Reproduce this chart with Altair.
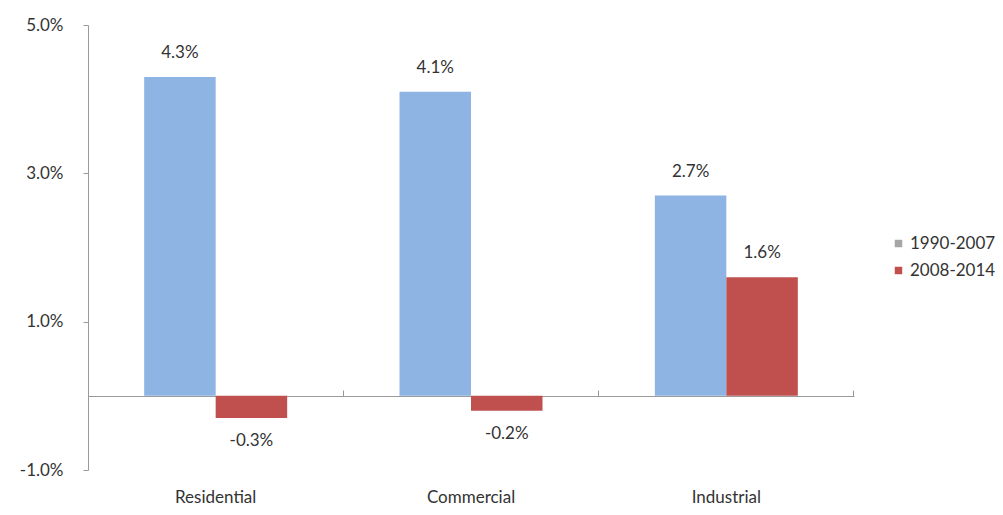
import altair as alt
import pandas as pd

categories = ["Residential", "Commercial", "Industrial"]
periods = ["1990-2007", "2008-2014"]
growth_1990_2007 = [0.043, 0.041, 0.027]
growth_2008_2014 = [-0.003, -0.002, 0.016]
y_ticks = [-0.01, 0.01, 0.03, 0.05]

rows = []
for c, a, b in zip(categories, growth_1990_2007, growth_2008_2014):
    rows.append({"category": c, "period": periods[0], "value": a})
    rows.append({"category": c, "period": periods[1], "value": b})
df = pd.DataFrame(rows)

FONT = "Lato"
TXT = "#333333"
AXIS_GREY = "#9a9a9a"
BLUE = "#8DB4E3"
RED = "#C0504D"
LEGEND_GREY = "#A6A6A6"

PAD_INNER = 0.44
x_scale = alt.Scale(paddingInner=PAD_INNER, paddingOuter=PAD_INNER / 2)
y_scale = alt.Scale(domain=[-0.01, 0.05], nice=False, zero=False)
# category separator ticks sit midway through the gap between groups
sep_band_pos = 1 + (PAD_INNER / 2) / (1 - PAD_INNER)

base = alt.Chart(df).transform_calculate(
    label="replace(format(datum.value, '.1%'), '\u2212', '-')"
)

x_plain = alt.X("category:N", sort=categories, scale=x_scale, axis=None)
y_plain = alt.Y("value:Q", scale=y_scale)
xo = alt.XOffset("period:N", sort=periods, scale=alt.Scale(paddingInner=0, paddingOuter=0))

bars = base.mark_bar().encode(
    x=alt.X("category:N", sort=categories, scale=x_scale, title=None,
            axis=alt.Axis(orient="bottom", domain=False, ticks=False, labelAngle=0,
                          labelPadding=19, labelFont=FONT, labelFontSize=17,
                          labelColor=TXT)),
    xOffset=xo,
    y=alt.Y("value:Q", scale=y_scale, title=None,
            axis=alt.Axis(values=y_ticks, format=".1%", grid=False, domainColor=AXIS_GREY,
                          tickColor=AXIS_GREY, tickSize=5, labelPadding=20,
                          labelExpr="replace(datum.label, '\u2212', '-')",
                          labelFont=FONT, labelFontSize=17, labelColor=TXT)),
    color=alt.Color("period:N", sort=periods,
                    scale=alt.Scale(range=[BLUE, RED]),
                    legend=None),
)

legend_layer = base.mark_square(size=0).encode(
    x=x_plain,
    xOffset=xo,
    y=y_plain,
    fill=alt.Fill("period:N", sort=periods,
                  scale=alt.Scale(domain=periods, range=[LEGEND_GREY, RED]),
                  legend=alt.Legend(title=None, orient="none", legendX=802, legendY=210,
                                    symbolType="square", symbolSize=56, padding=0,
                                    rowPadding=9, labelFont=FONT, labelFontSize=17,
                                    labelColor=TXT, labelOffset=3,
                                    symbolOpacity=1, symbolStrokeWidth=0)),
)

text_pos = base.transform_filter("datum.value >= 0").mark_text(
    baseline="middle", dy=-24, font=FONT, fontSize=17, color=TXT
).encode(
    x=x_plain,
    xOffset=xo,
    y=y_plain,
    text=alt.Text("label:N"),
)

text_neg = base.transform_filter("datum.value < 0").mark_text(
    baseline="middle", dy=23, font=FONT, fontSize=17, color=TXT
).encode(
    x=x_plain,
    xOffset=xo,
    y=y_plain,
    text=alt.Text("label:N"),
)

zero_axis = base.mark_bar(opacity=0).encode(
    x=alt.X("category:N", sort=categories, scale=x_scale, title=None,
            axis=alt.Axis(orient="top", offset=-371, labels=False, domain=True,
                          domainColor=AXIS_GREY, ticks=True, bandPosition=sep_band_pos,
                          tickColor=AXIS_GREY, tickSize=6, tickWidth=1)),
    y=alt.datum(0),
)

chart = alt.layer(bars, zero_axis, legend_layer, text_pos, text_neg).resolve_axis(
    x="independent"
).properties(
    width=766, height=445,
    autosize=alt.AutoSizeParams(type="none"),
    padding={"left": 80, "top": 17, "right": 141, "bottom": 37},
).configure_view(stroke=None)

chart.save("out.html", embed_options={"renderer": "svg", "actions": False})
